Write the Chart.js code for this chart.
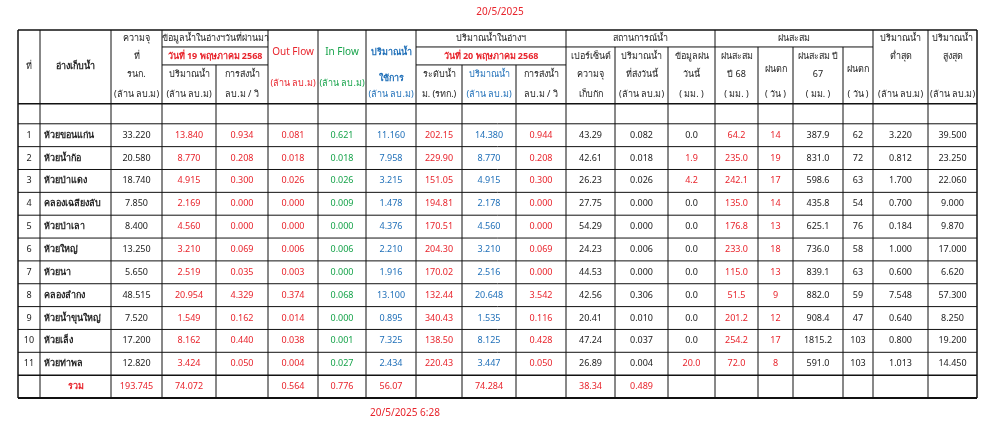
<!DOCTYPE html>
<html><head><meta charset="utf-8">
<script src="https://cdn.jsdelivr.net/npm/chart.js@4"></script>
<style>html,body{margin:0;background:#fff}#wrap{width:1000px;height:425px}</style>
</head><body><div id="wrap"><canvas id="c"></canvas></div>
<script>
const names = ["ห้วยขอนแก่น","ห้วยน้ำก้อ","ห้วยป่าแดง","คลองเฉลียงลับ","ห้วยป่าเลา","ห้วยใหญ่","ห้วยนา","คลองลำกง","ห้วยน้ำขุนใหญ่","ห้วยเล็ง","ห้วยท่าพล"];
const capacity = ["33.220","20.580","18.740","7.850","8.400","13.250","5.650","48.515","7.520","17.200","12.820"];
const prevVol = ["13.840","8.770","4.915","2.169","4.560","3.210","2.519","20.954","1.549","8.162","3.424"];
const prevRelease = ["0.934","0.208","0.300","0.000","0.000","0.069","0.035","4.329","0.162","0.440","0.050"];
const outFlow = ["0.081","0.018","0.026","0.000","0.000","0.006","0.003","0.374","0.014","0.038","0.004"];
const inFlow = ["0.621","0.018","0.026","0.009","0.000","0.006","0.000","0.068","0.000","0.001","0.027"];
const usable = ["11.160","7.958","3.215","1.478","4.376","2.210","1.916","13.100","0.895","7.325","2.434"];
const level = ["202.15","229.90","151.05","194.81","170.51","204.30","170.02","132.44","340.43","138.50","220.43"];
const vol = ["14.380","8.770","4.915","2.178","4.560","3.210","2.516","20.648","1.535","8.125","3.447"];
const release = ["0.944","0.208","0.300","0.000","0.000","0.069","0.000","3.542","0.116","0.428","0.050"];
const percent = ["43.29","42.61","26.23","27.75","54.29","24.23","44.53","42.56","20.41","47.24","26.89"];
const sentToday = ["0.082","0.018","0.026","0.000","0.000","0.006","0.000","0.306","0.010","0.037","0.004"];
const rainToday = ["0.0","1.9","4.2","0.0","0.0","0.0","0.0","0.0","0.0","0.0","20.0"];
const rain68 = ["64.2","235.0","242.1","135.0","176.8","233.0","115.0","51.5","201.2","254.2","72.0"];
const rainDays68 = ["14","19","17","14","13","18","13","9","12","17","8"];
const rain67 = ["387.9","831.0","598.6","435.8","625.1","736.0","839.1","882.0","908.4","1815.2","591.0"];
const rainDays67 = ["62","72","63","54","76","58","63","59","47","103","103"];
const minVol = ["3.220","0.812","1.700","0.700","0.184","1.000","0.600","7.548","0.640","0.800","1.013"];
const maxVol = ["39.500","23.250","22.060","9.000","9.870","17.000","6.620","57.300","8.250","19.200","14.450"];
const totals = ["รวม","193.745","74.072","","0.564","0.776","56.07","","74.284","","38.34","0.489"];

const RED="#e8242c", GREEN="#16a34a", BLUE="#1f6fb8", BLACK="#222";
// layout (scale units = px within the table)
const colEdges=[0,22,93,144,198,250,300,348,398,444,498,548,597,650,697,740,775,825,855,910,959];
const hdrEdges=[0,17,35,55,74];
const rowStart=94, rowH=22.9, tableH=94+12*22.9;
const FONT='"Noto Sans","DejaVu Sans",Tahoma,sans-serif';

const columns=[null,null,capacity,prevVol,prevRelease,outFlow,inFlow,usable,level,vol,release,percent,sentToday,rainToday,rain68,rainDays68,rain67,rainDays67,minVol,maxVol];
const colColor=[BLACK,BLACK,BLACK,RED,RED,RED,GREEN,BLUE,RED,BLUE,RED,BLACK,BLACK,null,RED,RED,BLACK,BLACK,BLACK,BLACK];

const tablePlugin={id:"table",afterDraw(chart){
  const ctx=chart.ctx,xs=chart.scales.x,ys=chart.scales.y;
  const X=v=>xs.getPixelForValue(v),Y=v=>ys.getPixelForValue(v);
  const text=(s,x,y,color,bold,align,size)=>{ctx.fillStyle=color||BLACK;ctx.font=(bold?"bold ":"")+(size||9)+"px "+FONT;ctx.textAlign=align||"center";ctx.textBaseline="middle";ctx.fillText(s,x,y);};
  const line=(x1,y1,x2,y2,w)=>{ctx.strokeStyle="#111";ctx.lineWidth=w||1;ctx.beginPath();ctx.moveTo(X(x1),Y(y1));ctx.lineTo(X(x2),Y(y2));ctx.stroke();};
  const cx=(a,b)=>(X(colEdges[a])+X(colEdges[b]))/2;
  const hy=i=>(Y(hdrEdges[i])+Y(hdrEdges[i+1]))/2;
  ctx.save();
  line(0,0,959,0,1.5);line(0,tableH,959,tableH,2);
  colEdges.forEach((e,i)=>{
    const outer=i==0||i==colEdges.length-1;
    if(outer||i<=3||[5,6,7,8,11,14,18,19].includes(i)) line(e,0,e,tableH,outer?1.5:1);
    else line(e,i==4||i==9||i==10?hdrEdges[2]:(i>=12&&i<=17?hdrEdges[1]:0),e,tableH);
  });
  line(colEdges[3],hdrEdges[1],colEdges[5],hdrEdges[1]);line(colEdges[3],hdrEdges[2],colEdges[5],hdrEdges[2]);
  line(colEdges[8],hdrEdges[1],colEdges[11],hdrEdges[1]);line(colEdges[8],hdrEdges[2],colEdges[11],hdrEdges[2]);
  line(colEdges[11],hdrEdges[1],colEdges[18],hdrEdges[1]);
  line(0,hdrEdges[4],959,hdrEdges[4],1.5);
  for(let k=0;k<=11;k++) line(0,rowStart+rowH*k,959,rowStart+rowH*k,k==11?1.5:1);
  const mid=(hy(0)+hy(3))/2;
  text("ที่",cx(0,1),mid);text("อ่างเก็บน้ำ",cx(1,2),mid,BLACK,true);
  ["ความจุ","ที่","รนก.","(ล้าน ลบ.ม)"].forEach((s,i)=>text(s,cx(2,3),hy(i)));
  text("ข้อมูลน้ำในอ่างฯวันที่ผ่านมา",cx(3,5),hy(0));text("วันที่ 19 พฤษภาคม 2568",cx(3,5),hy(1),RED,true);
  text("ปริมาณน้ำ",cx(3,4),hy(2));text("(ล้าน ลบ.ม)",cx(3,4),hy(3));
  text("การส่งน้ำ",cx(4,5),hy(2));text("ลบ.ม / วิ",cx(4,5),hy(3));
  text("Out Flow",cx(5,6),hy(1)-4,RED,false,"center",10);text("(ล้าน ลบ.ม)",cx(5,6),hy(2)+9,RED);
  text("In Flow",cx(6,7),hy(1)-4,GREEN,false,"center",10);text("(ล้าน ลบ.ม)",cx(6,7),hy(2)+9,GREEN);
  text("ปริมาณน้ำ",cx(7,8),hy(1)-4,BLUE,true);text("ใช้การ",cx(7,8),hy(2)+4,BLUE,true);text("(ล้าน ลบ.ม)",cx(7,8),hy(3),BLUE);
  text("ปริมาณน้ำในอ่างฯ",cx(8,11),hy(0));text("วันที่ 20 พฤษภาคม 2568",cx(8,11),hy(1),RED,true);
  text("ระดับน้ำ",cx(8,9),hy(2));text("ม. (รทก.)",cx(8,9),hy(3));
  text("ปริมาณน้ำ",cx(9,10),hy(2),BLUE);text("(ล้าน ลบ.ม)",cx(9,10),hy(3),BLUE);
  text("การส่งน้ำ",cx(10,11),hy(2));text("ลบ.ม / วิ",cx(10,11),hy(3));
  text("สถานการณ์น้ำ",cx(11,14),hy(0));text("ฝนสะสม",cx(14,18),hy(0));
  const three=[[11,["เปอร์เซ็นต์","ความจุ","เก็บกัก"]],[12,["ปริมาณน้ำ","ที่ส่งวันนี้","(ล้าน ลบ.ม)"]],[13,["ข้อมูลฝน","วันนี้","( มม. )"]],[14,["ฝนสะสม","ปี 68","( มม. )"]],[16,["ฝนสะสม ปี","67","( มม. )"]]];
  three.forEach(([c,ls])=>ls.forEach((s,i)=>text(s,cx(c,c+1),hy(i+1))));
  [15,17].forEach(c=>{text("ฝนตก",cx(c,c+1),(hy(1)+hy(2))/2+4);text("( วัน )",cx(c,c+1),hy(3));});
  text("ปริมาณน้ำ",cx(18,19),hy(0));text("ต่ำสุด",cx(18,19),hy(1));text("(ล้าน ลบ.ม)",cx(18,19),hy(3));
  text("ปริมาณน้ำ",cx(19,20),hy(0));text("สูงสุด",cx(19,20),hy(1));text("(ล้าน ลบ.ม)",cx(19,20),hy(3));
  names.forEach((n,r)=>{
    const y=Y(rowStart+rowH*r+rowH/2);
    text(String(r+1),cx(0,1),y);text(n,X(colEdges[1])+4,y,BLACK,true,"left");
    for(let c=2;c<columns.length;c++){
      const v=columns[c][r];
      const col=colColor[c]||(parseFloat(v)>0?RED:BLACK);
      text(v,cx(c,c+1),y,col);
    }
  });
  const ty=Y(rowStart+rowH*11+rowH/2);
  totals.forEach((v,c)=>{if(v) text(v,cx(c+1,c+2),ty,RED,c==0);});
  ctx.restore();
}};

new Chart(document.getElementById("c"),{
  type:"scatter",
  data:{datasets:[{data:[],pointRadius:0}]},
  options:{responsive:true,maintainAspectRatio:false,animation:false,
    layout:{padding:{left:18,right:23,top:30,bottom:27}},
    plugins:{legend:{display:false},tooltip:{enabled:false}},
    scales:{x:{type:"linear",min:0,max:959,display:false},
            y:{type:"linear",min:0,max:tableH,reverse:true,display:false}}},
  plugins:[tablePlugin,{id:"captions",afterDraw(chart){const ctx=chart.ctx;ctx.save();ctx.fillStyle=RED;ctx.font="10px "+FONT;ctx.textAlign="center";ctx.textBaseline="middle";ctx.fillText("20/5/2025",500,12);ctx.fillText("20/5/2025 6:28",405,413);ctx.restore();}}]
});
</script></body></html>
